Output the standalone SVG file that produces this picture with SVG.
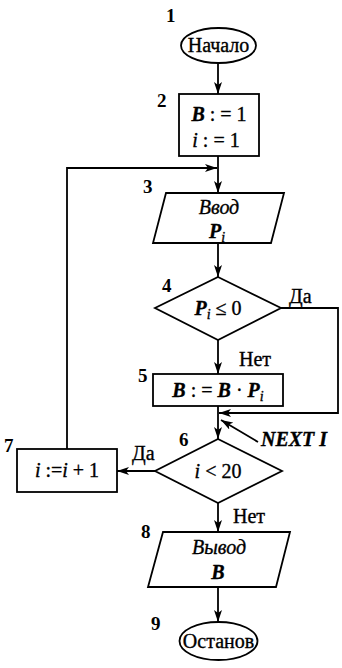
<svg xmlns="http://www.w3.org/2000/svg" width="342" height="668" viewBox="0 0 342 668">
<style>
  .s{fill:#fff;stroke:#000;stroke-width:1.8}
  .c{fill:none;stroke:#000;stroke-width:1.8}
  text{font-family:"Liberation Serif","Times New Roman",serif;fill:#000;font-size:20px;stroke:#000;stroke-width:0.35}
  .m{text-anchor:middle}
  .n{font-size:19px;font-weight:bold;stroke-width:0}
  .v{font-style:italic;font-weight:bold}
  .iv{font-style:italic}
  .sub{font-size:14px;font-style:italic}
</style>
<defs>
  <marker id="ah" viewBox="0 0 12 8" refX="12" refY="4" markerWidth="12" markerHeight="8" orient="auto" markerUnits="userSpaceOnUse">
    <path d="M0,0 L12,4 L0,8 L3,4 z" fill="#000"/>
  </marker>
</defs>
<g id="connectors">
  <line class="c" x1="218" y1="63" x2="218" y2="94" marker-end="url(#ah)"/>
  <line class="c" x1="218" y1="156" x2="218" y2="193" marker-end="url(#ah)"/>
  <polyline class="c" points="67,449 67,168 217,168" marker-end="url(#ah)"/>
  <line class="c" x1="218" y1="243" x2="218" y2="277" marker-end="url(#ah)"/>
  <line class="c" x1="218" y1="340" x2="218" y2="374" marker-end="url(#ah)"/>
  <polyline class="c" points="281,308 338,308 338,413 219,413" marker-end="url(#ah)"/>
  <line class="c" x1="218" y1="406" x2="218" y2="439" marker-end="url(#ah)"/>
  <line class="c" x1="258" y1="442" x2="221" y2="420" marker-end="url(#ah)"/>
  <line class="c" x1="155" y1="471" x2="117" y2="471" marker-end="url(#ah)"/>
  <line class="c" x1="218" y1="503" x2="218" y2="532" marker-end="url(#ah)"/>
  <line class="c" x1="218" y1="587" x2="218" y2="622" marker-end="url(#ah)"/>
  <text x="289" y="303">Да</text>
  <text x="239" y="366">Нет</text>
  <text x="261" y="446" class="iv" style="font-weight:bold">NEXT I</text>
  <text x="132" y="460">Да</text>
  <text x="233" y="523">Нет</text>
</g>
<g id="n1">
  <ellipse class="s" cx="218.5" cy="45.5" rx="37.5" ry="17.5"/>
  <text class="m" x="218.5" y="52">Начало</text>
  <text class="n" x="166" y="22">1</text>
</g>
<g id="n2">
  <rect class="s" x="179" y="94" width="80" height="62"/>
  <text class="m" x="219" y="121"><tspan class="v">B</tspan> : = 1</text>
  <text class="m" x="216" y="147"><tspan class="iv">i</tspan> : = 1</text>
  <text class="n" x="157" y="107">2</text>
</g>
<g id="n3">
  <polygon class="s" points="166,193 284,193 271,243 153,243"/>
  <text class="m" x="219" y="214"><tspan class="iv">Ввод</tspan></text>
  <text class="m" x="217" y="238"><tspan class="v">P</tspan><tspan class="sub" dy="4">i</tspan></text>
  <text class="n" x="143" y="193">3</text>
</g>
<g id="n4">
  <polygon class="s" points="218,277 281,308 218,340 155,308"/>
  <text class="m" x="218" y="315"><tspan class="v">P</tspan><tspan class="sub" dy="4">i</tspan><tspan dy="-4"> ≤ 0</tspan></text>
  <text class="n" x="162" y="292">4</text>
</g>
<g id="n5">
  <rect class="s" x="153" y="374" width="130" height="32"/>
  <text class="m" x="218" y="397"><tspan class="v">B</tspan> : = <tspan class="v">B</tspan> · <tspan class="v">P</tspan><tspan class="sub" dy="4">i</tspan></text>
  <text class="n" x="138" y="382">5</text>
</g>
<g id="n6">
  <polygon class="s" points="218,439 282,471 218,503 155,471"/>
  <text class="m" x="218" y="478"><tspan class="iv">i</tspan> &lt; 20</text>
  <text class="n" x="179" y="446">6</text>
</g>
<g id="n7">
  <rect class="s" x="17" y="449" width="100" height="43"/>
  <text class="m" x="67" y="477"><tspan class="iv">i</tspan> :=<tspan class="iv">i</tspan> + 1</text>
  <text class="n" x="4" y="452">7</text>
</g>
<g id="n8">
  <polygon class="s" points="163,532 290,532 276,587 148,587"/>
  <text class="m" x="219" y="554"><tspan class="iv">Вывод</tspan></text>
  <text class="m" x="218" y="579"><tspan class="v">B</tspan></text>
  <text class="n" x="141" y="538">8</text>
</g>
<g id="n9">
  <ellipse class="s" cx="218.5" cy="641" rx="39" ry="19"/>
  <text class="m" x="218.5" y="648">Останов</text>
  <text class="n" x="151" y="630">9</text>
</g>
</svg>
